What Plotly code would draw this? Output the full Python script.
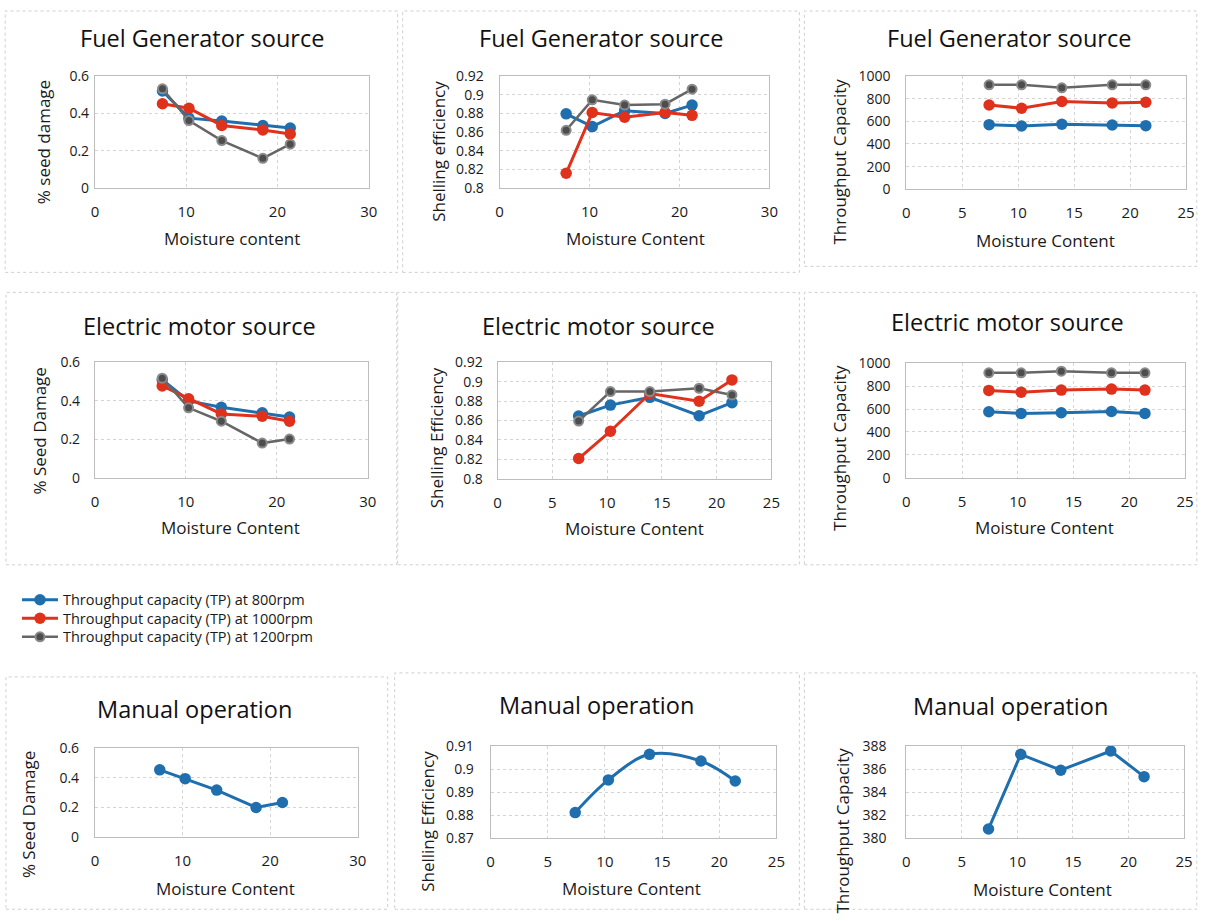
import plotly.graph_objects as go

W, H = 1207, 921
# measured mapping between page pixels and the photographed picture
A_X, K_X = 4.0, 0.99
A_Y, K_Y = 11.0, 0.978

# ---------------- data ----------------
moisture = [7.4, 10.3, 13.9, 18.4, 21.4]
series_names = [
    "Throughput capacity (TP) at 800rpm",
    "Throughput capacity (TP) at 1000rpm",
    "Throughput capacity (TP) at 1200rpm",
]

fuel_damage_800 = [0.52, 0.375, 0.36, 0.336, 0.322]
fuel_damage_1000 = [0.452, 0.428, 0.336, 0.312, 0.29]
fuel_damage_1200 = [0.532, 0.362, 0.255, 0.16, 0.236]

fuel_eff_800 = [0.8796, 0.866, 0.883, 0.880, 0.889]
fuel_eff_1000 = [0.816, 0.881, 0.876, 0.881, 0.878]
fuel_eff_1200 = [0.862, 0.8946, 0.889, 0.890, 0.906]

fuel_tp_800 = [571, 559, 574, 568, 562]
fuel_tp_1000 = [745, 716, 775, 763, 769]
fuel_tp_1200 = [923, 923, 896, 923, 923]

elec_damage_800 = [0.51, 0.40, 0.367, 0.3375, 0.316]
elec_damage_1000 = [0.478, 0.411, 0.332, 0.320, 0.294]
elec_damage_1200 = [0.518, 0.364, 0.294, 0.180, 0.201]

elec_eff_800 = [0.8647, 0.876, 0.884, 0.865, 0.8785]
elec_eff_1000 = [0.8208, 0.849, 0.888, 0.880, 0.902]
elec_eff_1200 = [0.8595, 0.890, 0.890, 0.8934, 0.8865]

elec_tp_800 = [577, 563, 569, 580, 563]
elec_tp_1000 = [764, 749, 767, 776, 767]
elec_tp_1200 = [918, 918, 933, 918, 918]

manual_damage = [0.453, 0.394, 0.317, 0.20, 0.233]
manual_eff = [0.8811, 0.8953, 0.9064, 0.9035, 0.8948]
manual_tp = [380.8, 387.28, 385.9, 387.57, 385.34]

damage_ticks = [0, 0.2, 0.4, 0.6]
damage_ticktext = ["0", "0.2", "0.4", "0.6"]
eff_ticks = [0.8, 0.82, 0.84, 0.86, 0.88, 0.9, 0.92]
eff_ticktext = ["0.8", "0.82", "0.84", "0.86", "0.88", "0.9", "0.92"]
tp_ticks = [0, 200, 400, 600, 800, 1000]
tp_ticktext = ["0", "200", "400", "600", "800", "1000"]
manual_eff_ticks = [0.87, 0.88, 0.89, 0.9, 0.91]
manual_eff_ticktext = ["0.87", "0.88", "0.89", "0.9", "0.91"]
manual_tp_ticks = [380, 382, 384, 386, 388]
manual_tp_ticktext = ["380", "382", "384", "386", "388"]
x30_ticks = [0, 10, 20, 30]
x25_ticks = [0, 5, 10, 15, 20, 25]

# ---------------- styling ----------------
FONT = "Open Sans"
TXT = "#1a1a1a"
BLUE = "#1f6fae"
RED = "#e0311c"
GRAY = "#666666"
GRID = "#d4d4d4"
BORDER = "#bdbdbd"

colors = [BLUE, RED, GRAY]


def page_x(p):
    return (p - A_X) / K_X


def page_y(p):
    return (p - A_Y) / K_Y


def px_x(p):
    return page_x(p) / W


def px_y(p):
    return 1 - page_y(p) / H


fig = go.Figure()

panels = [
    dict(box=(95, 77, 369, 189), xt=x30_ticks, yt=damage_ticks, ytt=damage_ticktext, ysd=2,
         title="Fuel Generator source", tp=(202, 39), xtitle="Moisture content", xtp=(232, 239),
         ytitle="% seed damage", ytp=(43, 143),
         series=[fuel_damage_800, fuel_damage_1000, fuel_damage_1200]),
    dict(box=(500, 77, 770, 189), xt=x30_ticks, yt=eff_ticks, ytt=eff_ticktext, ysd=12,
         title="Fuel Generator source", tp=(601, 39), xtitle="Moisture Content", xtp=(636, 239),
         ytitle="Shelling efficiency", ytp=(439, 152),
         series=[fuel_eff_800, fuel_eff_1000, fuel_eff_1200]),
    dict(box=(907, 77, 1187, 190), xt=x25_ticks, yt=tp_ticks, ytt=tp_ticktext, ysd=12,
         title="Fuel Generator source", tp=(1010, 39), xtitle="Moisture Content", xtp=(1046, 241),
         ytitle="Throughput Capacity", ytp=(840, 162),
         series=[fuel_tp_800, fuel_tp_1000, fuel_tp_1200]),
    dict(box=(95, 363, 368, 478), xt=x30_ticks, yt=damage_ticks, ytt=damage_ticktext, ysd=11,
         title="Electric motor source", tp=(200, 327), xtitle="Moisture Content", xtp=(231, 528),
         ytitle="% Seed Damage", ytp=(40, 431),
         series=[elec_damage_800, elec_damage_1000, elec_damage_1200]),
    dict(box=(498, 363, 772, 479), xt=x25_ticks, yt=eff_ticks, ytt=eff_ticktext, ysd=11,
         title="Electric motor source", tp=(599, 327), xtitle="Moisture Content", xtp=(635, 529),
         ytitle="Shelling Efficiency", ytp=(437, 438),
         series=[elec_eff_800, elec_eff_1000, elec_eff_1200]),
    dict(box=(907, 364, 1186, 478), xt=x25_ticks, yt=tp_ticks, ytt=tp_ticktext, ysd=12,
         title="Electric motor source", tp=(1008, 323), xtitle="Moisture Content", xtp=(1045, 528),
         ytitle="Throughput Capacity", ytp=(840, 448),
         series=[elec_tp_800, elec_tp_1000, elec_tp_1200]),
    dict(box=(95, 748, 358, 837), xt=x30_ticks, yt=damage_ticks, ytt=damage_ticktext, ysd=12,
         title="Manual operation", tp=(195, 709), xtitle="Moisture Content", xtp=(226, 888),
         ytitle="% Seed Damage", ytp=(28, 814),
         series=[manual_damage]),
    dict(box=(491, 746, 777, 838), xt=x25_ticks, yt=manual_eff_ticks, ytt=manual_eff_ticktext, ysd=13,
         title="Manual operation", tp=(597, 705), xtitle="Moisture Content", xtp=(632, 888),
         ytitle="Shelling Efficiency", ytp=(427, 821),
         series=[manual_eff], spline=True),
    dict(box=(907, 746, 1185, 838), xt=x25_ticks, yt=manual_tp_ticks, ytt=manual_tp_ticktext, ysd=16,
         title="Manual operation", tp=(1011, 706), xtitle="Moisture Content", xtp=(1043, 889),
         ytitle="Throughput Capacity", ytp=(843, 830),
         series=[manual_tp]),
]

legend_names = ["legend", "legend2", "legend3"]
legend_rows = [600, 618.5, 637]

annotations = []
layout_axes = {}

for i, p in enumerate(panels, start=1):
    l, t, r, b = p["box"]
    xname = "xaxis" if i == 1 else f"xaxis{i}"
    yname = "yaxis" if i == 1 else f"yaxis{i}"
    xref = "x" if i == 1 else f"x{i}"
    yref = "y" if i == 1 else f"y{i}"
    layout_axes[xname] = dict(
        domain=[px_x(l), px_x(r)], anchor=yref,
        range=[p["xt"][0], p["xt"][-1]], tickvals=p["xt"],
        ticktext=[str(v) for v in p["xt"]],
        showgrid=True, gridcolor=GRID, griddash="dot", gridwidth=1,
        showline=True, linecolor=BORDER, mirror=True, zeroline=False,
        ticks="", ticklabelstandoff=10,
        tickfont=dict(family=FONT, size=15, color=TXT),
        fixedrange=True,
    )
    layout_axes[yname] = dict(
        domain=[px_y(b), px_y(t)], anchor=xref,
        range=[p["yt"][0], p["yt"][-1]], tickvals=p["yt"], ticktext=p["ytt"],
        showgrid=True, gridcolor=GRID, griddash="dot", gridwidth=1,
        showline=True, linecolor=BORDER, mirror=True, zeroline=False,
        ticks="", ticklabelstandoff=p["ysd"],
        tickfont=dict(family=FONT, size=14, color=TXT),
        fixedrange=True,
    )
    for k, ys in enumerate(p["series"]):
        is_gray = k == 2
        fig.add_trace(go.Scatter(
            x=moisture, y=ys, xaxis=xref, yaxis=yref,
            mode="lines+markers", name=series_names[k],
            showlegend=(i == 1), legend=legend_names[k],
            line=dict(color=colors[k], width=2.5 if is_gray else 3,
                      shape="spline" if p.get("spline") else "linear"),
            marker=dict(
                size=9 if is_gray else 11.5,
                color="#4d4d4d" if is_gray else colors[k],
                line=dict(color="#8a8a8a" if is_gray else colors[k], width=2 if is_gray else 0),
            ),
            cliponaxis=False,
            hoverinfo="skip",
        ))
    tx, ty = p["tp"]
    annotations.append(dict(text=p["title"], x=px_x(tx), y=px_y(ty), xref="paper", yref="paper",
                            showarrow=False, xanchor="center", yanchor="middle",
                            font=dict(family=FONT, size=23.5, color="#111111")))
    ax, ay = p["xtp"]
    annotations.append(dict(text=p["xtitle"], x=px_x(ax), y=px_y(ay), xref="paper", yref="paper",
                            showarrow=False, xanchor="center", yanchor="middle",
                            font=dict(family=FONT, size=17, color=TXT)))
    yx, yy = p["ytp"]
    annotations.append(dict(text=p["ytitle"], x=px_x(yx), y=px_y(yy), xref="paper", yref="paper",
                            showarrow=False, xanchor="center", yanchor="middle", textangle=-90,
                            font=dict(family=FONT, size=17, color=TXT)))

# dotted panel frames (reference pixel boxes)
frames = [
    (2, 12, 398, 273), (403, 12, 800, 273), (805, 12, 1203, 267),
    (6, 293, 397, 565), (398, 293, 800, 565), (805, 293, 1203, 565),
    (6, 677, 388, 909), (395, 673, 800, 909), (805, 673, 1203, 909),
]
shapes = []
for (l, t, r, b) in frames:
    shapes.append(dict(type="rect", xref="paper", yref="paper",
                       x0=max(px_x(l), 0.001), x1=min(px_x(r), 0.999),
                       y0=max(px_y(b), 0.001), y1=min(px_y(t), 0.999),
                       line=dict(color="#cfcfcf", width=1, dash="dot"), layer="below"))

legend_layout = {}
for name, row in zip(legend_names, legend_rows):
    legend_layout[name] = dict(
        x=px_x(17), y=px_y(row), xanchor="left", yanchor="middle",
        font=dict(family=FONT, size=14.5, color=TXT),
        itemwidth=36, bgcolor="rgba(0,0,0,0)", borderwidth=0,
    )

fig.update_layout(
    width=W, height=H, autosize=False,
    margin=dict(l=0, r=0, t=0, b=0, pad=0),
    paper_bgcolor="white", plot_bgcolor="white",
    font=dict(family=FONT, color=TXT),
    annotations=annotations, shapes=shapes,
    showlegend=True,
    **legend_layout,
    **layout_axes,
)

fig.write_html(
    "out.html",
    config={"displayModeBar": False, "staticPlot": True},
    post_script="document.body.style.margin='0';document.body.style.overflow='hidden';"
                "document.documentElement.style.overflow='hidden';",
)
